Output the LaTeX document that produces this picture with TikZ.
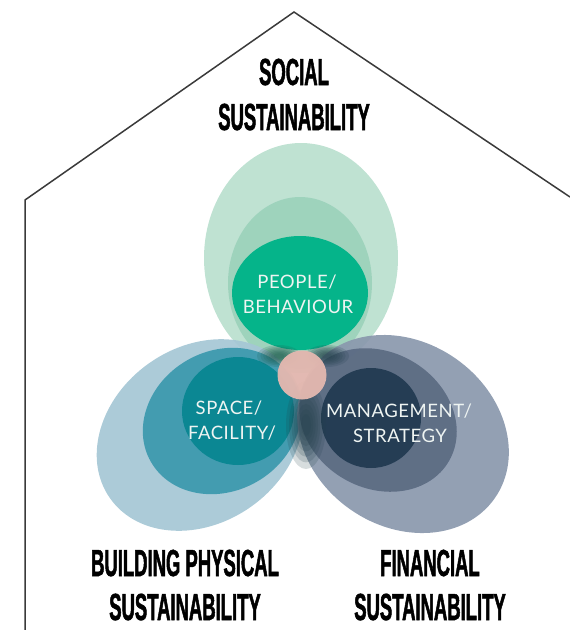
\documentclass[tikz,border=0pt]{standalone}
\usepackage{fontspec}
\newfontfamily\headfont[FakeStretch=0.49,FakeBold=1.3]{Liberation Sans}
\newfontfamily\innerfont[LetterSpace=3]{Lato}
\definecolor{topOuter}{HTML}{BCE0D0}
\definecolor{topMid}{HTML}{9BD2BB}
\definecolor{topIn}{HTML}{05B48A}
\definecolor{leftOuter}{HTML}{A5C7D5}
\definecolor{leftMid}{HTML}{3E9AAF}
\definecolor{leftIn}{HTML}{0B8793}
\definecolor{rightOuter}{HTML}{8A98AD}
\definecolor{rightMid}{HTML}{5C6C84}
\definecolor{rightIn}{HTML}{253D54}
\definecolor{pinkc}{HTML}{E2B7AF}
\definecolor{blendDark}{HTML}{22404A}
\definecolor{blendGreen}{HTML}{1E5A4E}
\definecolor{houseline}{HTML}{3A3A3A}
\definecolor{textwhite}{HTML}{EEF4F2}
\tikzset{
  head/.style={anchor=base, inner sep=0pt, text=black,
    font=\headfont\bfseries\fontsize{37.7}{44}\selectfont},
  inner/.style={anchor=base, inner sep=0pt, text=textwhite,
    font=\innerfont\fontsize{18.5}{24}\selectfont},
  house/.style={draw=houseline, line width=1.5pt, line join=miter},
  soft/.style={fill=#1, fill opacity=0.18}
}
\begin{document}
\begin{tikzpicture}[x=1pt,y=-1pt]
\useasboundingbox (0,0) rectangle (570,630);
% house outline
\coordinate (hbl) at (25,630);
\coordinate (hl) at (25,200);
\coordinate (apex) at (294,12);
\coordinate (hr) at (570,197);
\draw[house] (hbl) -- (hl) -- (apex) -- (hr);

% top group (social)
\fill[topOuter, opacity=0.95] (301,258) ellipse [x radius=97pt, y radius=115pt];
\fill[topMid, opacity=0.9] (300,283) ellipse [x radius=72pt, y radius=86pt];
\fill[topIn] (300,293) ellipse [x radius=68pt, y radius=57pt];

% left group (building physical)
\fill[leftOuter, opacity=0.92, rotate around={35:(200,435)}] (200,435) ellipse [x radius=110pt, y radius=88pt];
\fill[leftMid, opacity=0.95, rotate around={30:(222,421)}] (222,421) ellipse [x radius=82pt, y radius=70pt];
\fill[leftIn] (238,411) ellipse [x radius=56pt, y radius=54pt];

% right group (financial)
\fill[rightOuter, opacity=0.92, rotate around={-35:(403,434)}] (403,434) ellipse [x radius=112pt, y radius=92pt];
\fill[rightMid, opacity=0.95, rotate around={-30:(378,420)}] (378,420) ellipse [x radius=82pt, y radius=68pt];
\fill[rightIn] (371,418) ellipse [x radius=50pt, y radius=50pt];

% soft dark blend around the centre
\foreach \s in {1.0,0.85,0.72,0.6,0.48,0.36,0.25}{
  \path[soft=blendDark] (306,425) ellipse [x radius=20*\s pt, y radius=44*\s pt];
  \path[soft=blendGreen] (279,356) ellipse [x radius=22*\s pt, y radius=11*\s pt];
  \path[soft=blendDark] (327,356) ellipse [x radius=22*\s pt, y radius=11*\s pt];
}

% centre circle
\fill[pinkc, opacity=0.97] (302,375) circle [radius=24.5pt];

% inner labels
\node[inner] (people) at (297,288) {PEOPLE/};
\node[inner] (behaviour) at (298,313) {BEHAVIOUR};
\node[inner] (space) at (229,414) {SPACE/};
\node[inner] (facility) at (232,439) {FACILITY/};
\node[inner] (management) at (399,417) {MANAGEMENT/};
\node[inner] (strategy) at (400,442) {STRATEGY};

% outer labels
\node[head] (social) at (294,85) {SOCIAL};
\node[head] (socialsus) at (294,130) {SUSTAINABILITY};
\node[head] (building) at (185,576) {BUILDING PHYSICAL};
\node[head] (buildingsus) at (185,620) {SUSTAINABILITY};
\node[head] (financial) at (430,576) {FINANCIAL};
\node[head] (financialsus) at (430,620) {SUSTAINABILITY};
\end{tikzpicture}
\end{document}
